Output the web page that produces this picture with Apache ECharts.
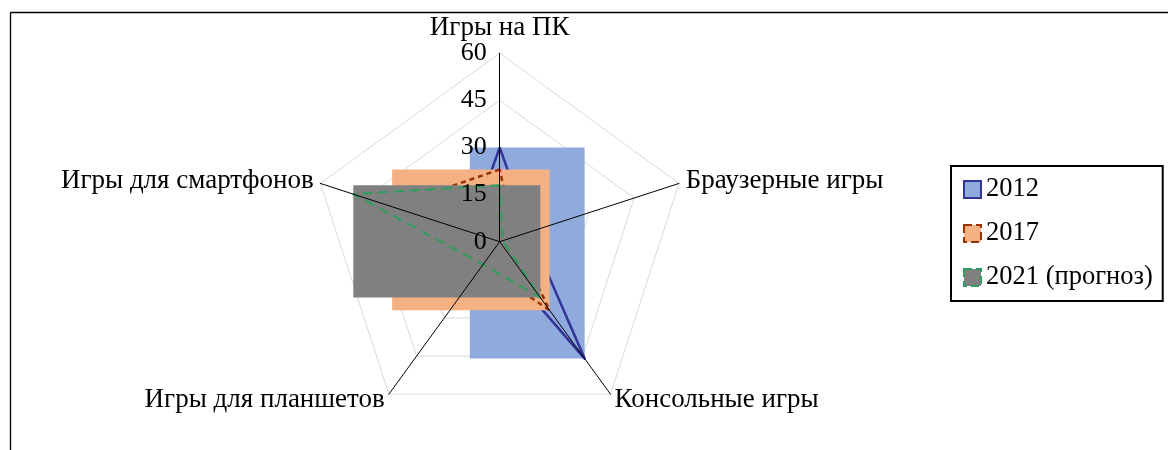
<!DOCTYPE html>
<html><head><meta charset="utf-8">
<script src="https://cdn.jsdelivr.net/npm/echarts@6/dist/echarts.min.js"></script>
<style>html,body{margin:0;padding:0;background:#fff}#c{width:1168px;height:450px}</style>
</head><body><div id="c"></div>
<script>
// Data (reference order: clockwise from top)
const indicators = ['Игры на ПК', 'Браузерные игры', 'Консольные игры', 'Игры для планшетов', 'Игры для смартфонов'];
const seriesNames = ['2012', '2017', '2021 (прогноз)'];
const values2012 = [30, 10, 46, 4, 10];
const values2017 = [23, 5, 27, 9, 36];
const values2021 = [18, 1, 22, 9, 49];
const axisMax = 60;
const axisStep = 15;

// ECharts radar goes counter-clockwise; reorder to keep the clockwise look
const order = [0, 4, 3, 2, 1];
const reorder = arr => order.map(i => arr[i]);

const CX = 499.7, CY = 241.7, R = 188.5;
const FONT = 'Liberation Serif';

const colors = {
  fill: ['#8faadc', '#f4b183', '#808080'],
  line: ['#333399', '#993300', '#2e9e5e']
};

function bbox(vals) {
  const v = reorder(vals);
  const n = v.length;
  let xs = [], ys = [];
  v.forEach((val, j) => {
    const a = (90 + j * 360 / n) * Math.PI / 180;
    xs.push(val * Math.cos(a));
    ys.push(val * Math.sin(a));
  });
  return [Math.min(...xs), Math.max(...xs), Math.min(...ys), Math.max(...ys)];
}

const allVals = [values2012, values2017, values2021];
const lineDash = ['solid', [5, 4], [10, 6]];
const lineWidth = [2.5, 2.5, 2];

const series = [];
allVals.forEach((vals, k) => {
  series.push({
    type: 'custom',
    name: 'box' + k,
    xAxisIndex: 0, yAxisIndex: 0,
    z: 1 + k * 2,
    silent: true,
    data: [bbox(vals)],
    renderItem: (params, api) => {
      const p1 = api.coord([api.value(0), api.value(3)]);
      const p2 = api.coord([api.value(1), api.value(2)]);
      return {
        type: 'rect',
        shape: { x: p1[0], y: p1[1], width: p2[0] - p1[0], height: p2[1] - p1[1] },
        style: { fill: colors.fill[k] }
      };
    }
  });
  series.push({
    type: 'radar',
    name: seriesNames[k],
    radarIndex: 0,
    z: 2 + k * 2,
    symbol: 'none',
    silent: true,
    itemStyle: { color: colors.fill[k], borderColor: colors.line[k] },
    lineStyle: { color: colors.line[k], width: lineWidth[k], type: lineDash[k] },
    data: [{ value: reorder(vals), name: seriesNames[k] }]
  });
});

const radarBase = {
  center: [CX, CY], radius: R, startAngle: 90, shape: 'polygon', splitNumber: axisMax / axisStep,
  axisTick: { show: false }, axisLabel: { show: false }, splitArea: { show: false }
};

const option = {
  animation: false,
  backgroundColor: '#fff',
  graphic: [
    { type: 'line', shape: { x1: 10.5, y1: 12.5, x2: 1168, y2: 12.5 }, style: { stroke: '#000', lineWidth: 1.3 } },
    { type: 'line', shape: { x1: 10.5, y1: 12.5, x2: 10.5, y2: 450 }, style: { stroke: '#000', lineWidth: 1.3 } }
  ],
  grid: { left: CX - R, top: CY - R, width: 2 * R, height: 2 * R, containLabel: false },
  xAxis: { type: 'value', min: -axisMax, max: axisMax, show: false },
  yAxis: {
    type: 'value', min: -axisMax, max: axisMax, interval: axisStep, offset: -R, z: 11,
    axisLine: { show: false }, axisTick: { show: false }, splitLine: { show: false },
    axisLabel: { margin: 13, color: '#000', fontFamily: FONT, fontSize: 26, formatter: v => (v >= 0 ? String(v) : '') }
  },
  radar: [
    Object.assign({}, radarBase, {
      z: 0,
      indicator: reorder(indicators).map(n => ({ name: n, min: 0, max: axisMax })),
      nameGap: 7,
      axisName: {
        color: '#000', fontFamily: FONT, fontSize: 27,
        formatter: (name) => name === indicators[0] ? '{t|' + name + '}' : name,
        rich: { t: { color: '#000', fontFamily: FONT, fontSize: 27, padding: [0, 0, 5, 0] } }
      },
      splitLine: { lineStyle: { color: '#d9d9d9', width: 1 } },
      axisLine: { show: false }
    }),
    Object.assign({}, radarBase, {
      z: 10,
      indicator: reorder(indicators).map(n => ({ name: '', min: 0, max: axisMax })),
      axisName: { show: false },
      splitLine: { show: false },
      axisLine: { lineStyle: { color: '#000', width: 1 } }
    })
  ],
  legend: {
    orient: 'vertical', left: 951, top: 166,
    itemWidth: 17, itemHeight: 17, itemGap: 17,
    padding: [10, 10, 10, 12],
    borderColor: '#000', borderWidth: 2,
    selectedMode: false,
    textStyle: { fontSize: 26.5, fontFamily: FONT, color: '#000' },
    data: seriesNames.map((n, k) => ({
      name: n, icon: 'rect',
      itemStyle: { color: colors.fill[k], borderColor: colors.line[k], borderWidth: 2, borderType: k === 0 ? 'solid' : 'dashed' }
    }))
  },
  series: series
};

const chart = echarts.init(document.getElementById('c'), null, { renderer: 'canvas' });
chart.setOption(option);
</script>
</body></html>
